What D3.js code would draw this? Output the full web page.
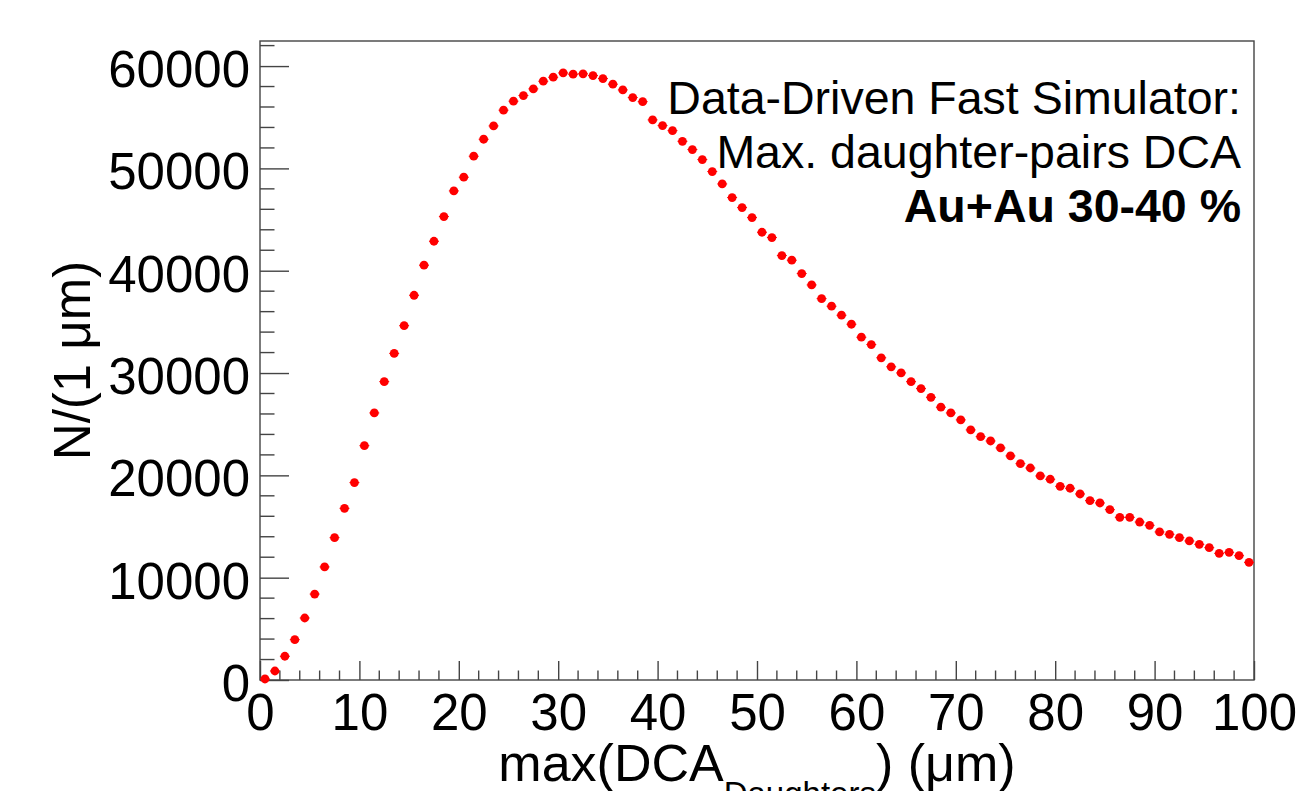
<!DOCTYPE html>
<html>
<head>
<meta charset="utf-8">
<script src="https://cdn.jsdelivr.net/npm/d3@7"></script>
<style>
  html, body { margin: 0; padding: 0; background: #fff; }
  svg { display: block; font-family: "Liberation Sans", Arial, sans-serif; }
</style>
</head>
<body>
<div id="chart"></div>
<script>
// Histogram: 100 bins of 1 um from 0 to 100
const nBins = 100;
const binWidth = 1;
const counts = [
  100, 880, 2320, 3940, 6060, 8400, 11050, 13910, 16780, 19290,
  22900, 26100, 29160, 31920, 34630, 37600, 40540, 42880, 45290, 47800,
  49140, 51190, 52850, 54150, 55690, 56570, 57120, 57770, 58520, 58910,
  59330, 59210, 59240, 59070, 58780, 58230, 57670, 56920, 56520, 54740,
  54180, 53690, 52650, 51840, 50860, 49690, 48480, 47150, 46170, 45190,
  43760, 43240, 41480, 41030, 39720, 38610, 37270, 36530, 35650, 34770,
  33500, 32780, 31490, 30610, 30010, 29160, 28480, 27630, 26660, 26100,
  25420, 24440, 23780, 23360, 22680, 21900, 21140, 20720, 19940, 19620,
  18930, 18740, 18180, 17530, 17300, 16650, 15900, 15900, 15440, 15120,
  14470, 14240, 13910, 13590, 13260, 12930, 12380, 12480, 12150, 11500
];
const xTicks = [0, 10, 20, 30, 40, 50, 60, 70, 80, 90, 100];
const yTicks = [0, 10000, 20000, 30000, 40000, 50000, 60000];
const textLines = ["Data-Driven Fast Simulator:", "Max. daughter-pairs DCA", "Au+Au 30-40 %"];

const width = 1296;
const height = 791;
const frame = { left: 260, right: 1254, top: 41, bottom: 680 };

const svg = d3.select('#chart')
  .append('svg')
  .attr('width', width)
  .attr('height', height);

const x = d3.scaleLinear().domain([0, nBins * binWidth]).range([frame.left, frame.right]);
const y = d3.scaleLinear().domain([0, 62450]).range([frame.bottom, frame.top]);

const axisColor = '#444';

// Frame
svg.append('rect')
  .attr('x', frame.left)
  .attr('y', frame.top)
  .attr('width', frame.right - frame.left)
  .attr('height', frame.bottom - frame.top)
  .attr('fill', 'none')
  .attr('stroke', axisColor)
  .attr('stroke-width', 1.4);

// Y axis (ticks point inward, ROOT style)
const yAxis = d3.axisLeft(y)
  .tickValues(yTicks)
  .tickSize(-29)
  .tickPadding(0)
  .tickFormat(d3.format('d'));
const gy = svg.append('g')
  .attr('transform', `translate(${frame.left},0)`)
  .call(yAxis);
gy.select('.domain').remove();
gy.selectAll('line').attr('stroke', axisColor).attr('stroke-width', 1.4);
gy.selectAll('text')
  .attr('x', -10)
  .attr('dy', '0.4em')
  .attr('fill', '#000')
  .style('font-size', '51px')
  .style('font-family', '"Liberation Sans", Arial, sans-serif');

// Y minor ticks
const yMinor = d3.range(0, 62450, 2000).filter(v => v % 10000 !== 0);
svg.append('g').selectAll('line')
  .data(yMinor)
  .join('line')
  .attr('x1', frame.left)
  .attr('x2', frame.left + 14.5)
  .attr('y1', d => y(d))
  .attr('y2', d => y(d))
  .attr('stroke', axisColor)
  .attr('stroke-width', 1.4);

// X axis
const xAxis = d3.axisBottom(x)
  .tickValues(xTicks)
  .tickSize(-19)
  .tickPadding(0)
  .tickFormat(d3.format('d'));
const gx = svg.append('g')
  .attr('transform', `translate(0,${frame.bottom})`)
  .call(xAxis);
gx.select('.domain').remove();
gx.selectAll('line').attr('stroke', axisColor).attr('stroke-width', 1.4);
gx.selectAll('text')
  .attr('y', 50)
  .attr('dy', 0)
  .attr('fill', '#000')
  .style('font-size', '51px')
  .style('font-family', '"Liberation Sans", Arial, sans-serif');

// X minor ticks
const xMinor = d3.range(0, 100, 2).filter(v => v % 10 !== 0);
svg.append('g').selectAll('line')
  .data(xMinor)
  .join('line')
  .attr('x1', d => x(d))
  .attr('x2', d => x(d))
  .attr('y1', frame.bottom)
  .attr('y2', frame.bottom - 9.5)
  .attr('stroke', axisColor)
  .attr('stroke-width', 1.4);

// Axis titles (subscript runs off the bottom edge, as in the original)
const xTitle = svg.append('text')
  .attr('x', (frame.left + frame.right) / 2)
  .attr('y', 781)
  .attr('text-anchor', 'middle')
  .style('font-size', '52px');
xTitle.append('tspan').text('max(DCA');
xTitle.append('tspan').attr('dy', 24).style('font-size', '33px').text('Daughters');
xTitle.append('tspan').attr('dy', -24).text(') (\u03bcm)');

svg.append('text')
  .attr('transform', `translate(90,${(frame.top + frame.bottom) / 2}) rotate(-90)`)
  .attr('text-anchor', 'middle')
  .style('font-size', '51px')
  .text('N/(1 \u03bcm)');

// Data points with error bars
const bins = counts.map((c, i) => ({ lo: i * binWidth, hi: (i + 1) * binWidth, n: c }));
const pts = svg.append('g').attr('class', 'points');

pts.selectAll('line.xerr')
  .data(bins)
  .join('line')
  .attr('class', 'xerr')
  .attr('x1', d => x(d.lo))
  .attr('x2', d => x(d.hi))
  .attr('y1', d => y(d.n))
  .attr('y2', d => y(d.n))
  .attr('stroke', '#ff0000')
  .attr('stroke-width', 1);

pts.selectAll('line.yerr')
  .data(bins)
  .join('line')
  .attr('class', 'yerr')
  .attr('x1', d => x((d.lo + d.hi) / 2))
  .attr('x2', d => x((d.lo + d.hi) / 2))
  .attr('y1', d => y(d.n - Math.sqrt(d.n)))
  .attr('y2', d => y(d.n + Math.sqrt(d.n)))
  .attr('stroke', '#ff0000')
  .attr('stroke-width', 1);

pts.selectAll('circle')
  .data(bins)
  .join('circle')
  .attr('cx', d => x((d.lo + d.hi) / 2))
  .attr('cy', d => y(d.n))
  .attr('r', 4.4)
  .attr('fill', '#ff0000');

// Label block, right aligned inside the frame
svg.append('g').selectAll('text')
  .data(textLines)
  .join('text')
  .attr('x', 1241)
  .attr('y', (d, i) => 114 + i * 54)
  .attr('text-anchor', 'end')
  .style('font-size', '46.5px')
  .style('font-weight', (d, i) => i === 2 ? 'bold' : 'normal')
  .text(d => d);
</script>
</body>
</html>
